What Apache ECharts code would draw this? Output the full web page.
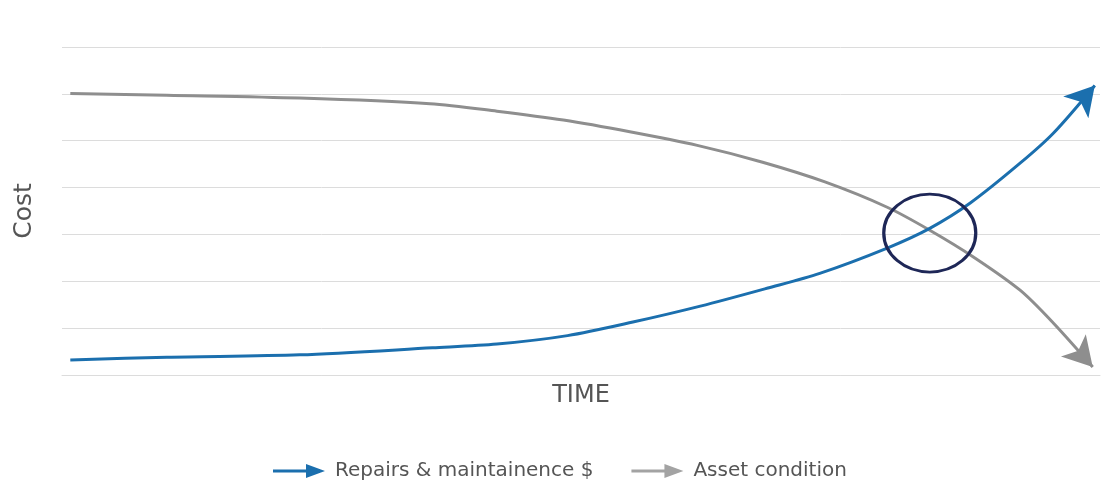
<!DOCTYPE html>
<html>
<head>
<meta charset="utf-8">
<script src="https://cdn.jsdelivr.net/npm/echarts@6/dist/echarts.min.js"></script>
<style>
  html, body { margin: 0; padding: 0; background: #ffffff; }
  #chart { width: 1115px; height: 481px; }
</style>
</head>
<body>
<div id="chart"></div>
<script>
// Time runs 0..100, cost on a 0..7 scale (no tick labels shown)
const repairsTime = [0.8, 10.1, 22.9, 35.7, 41.9, 48.7, 55.0, 61.5, 67.9, 73.0, 79.5, 83.6, 87.5, 92.3, 95.5, 99.5];
const repairsCost = [0.32, 0.38, 0.43, 0.58, 0.66, 0.84, 1.13, 1.47, 1.85, 2.17, 2.71, 3.13, 3.67, 4.52, 5.16, 6.18];

const conditionTime = [0.8, 10.1, 22.9, 35.45, 41.9, 48.3, 54.7, 61.2, 67.5, 73.5, 79.5, 83.6, 87.8, 92.3, 95.5, 99.3];
const conditionCost = [6.01, 5.97, 5.91, 5.79, 5.63, 5.44, 5.19, 4.90, 4.54, 4.12, 3.58, 3.09, 2.52, 1.81, 1.11, 0.17];

// Where the two curves cross
const crossingPoint = [83.6, 3.03];

const seriesNames = ['Repairs & maintainence $', 'Asset condition'];
const axisNames = { x: 'TIME', y: 'Cost' };

const BLUE = '#1b6fae';
const GREY = '#8e8e8e';
const TEXT = '#555555';
const GRID_LINE = '#dcdcdc';

const arrowIcon = 'path://M0,6.5L33,6.5L33,1L52,8L33,15L33,9.5L0,9.5Z';

function pairs(xs, ys, rot) {
  return xs.map((x, i) => {
    const item = { value: [x, ys[i]] };
    if (i === xs.length - 1) {
      item.symbol = 'arrow';
      item.symbolSize = [25, 29];
      item.symbolRotate = rot || 0;
    }
    return item;
  });
}

const chart = echarts.init(document.getElementById('chart'), null, { renderer: 'canvas' });

function buildOption(rotA, rotB) {
  return {
    animation: false,
    backgroundColor: '#ffffff',
    textStyle: { fontFamily: 'DejaVu Sans' },
    grid: { left: 62, right: 15, top: 47, bottom: 106 },
    legend: {
      left: 268,
      top: 456,
      itemWidth: 52,
      itemHeight: 16,
      itemGap: 38,
      textStyle: { color: TEXT, fontSize: 20, fontFamily: 'DejaVu Sans', padding: [0, 0, 0, 5] },
      data: [
        { name: seriesNames[0], icon: arrowIcon, itemStyle: { color: BLUE } },
        { name: seriesNames[1], icon: arrowIcon, itemStyle: { color: '#a3a3a3' } }
      ]
    },
    xAxis: {
      type: 'value',
      min: 0,
      max: 100,
      name: axisNames.x,
      nameLocation: 'middle',
      nameGap: 9,
      nameTextStyle: { color: TEXT, fontSize: 24, fontFamily: 'DejaVu Sans', verticalAlign: 'top' },
      axisLine: { show: true, lineStyle: { color: GRID_LINE, width: 1 } },
      axisTick: { show: false },
      axisLabel: { show: false },
      splitLine: { show: false }
    },
    yAxis: {
      type: 'value',
      min: 0,
      max: 7,
      interval: 1,
      name: axisNames.y,
      nameLocation: 'middle',
      nameRotate: 90,
      nameGap: 25,
      nameTextStyle: { color: TEXT, fontSize: 25, fontFamily: 'DejaVu Sans' },
      axisLine: { show: false },
      axisTick: { show: false },
      axisLabel: { show: false },
      splitLine: { show: true, lineStyle: { color: GRID_LINE, width: 1 } }
    },
    series: [
      {
        name: seriesNames[0],
        type: 'line',
        smooth: 0.3,
        symbol: 'none',
        showSymbol: true,
        showAllSymbol: true,
        z: 3,
        itemStyle: { color: BLUE },
        lineStyle: { color: BLUE, width: 3 },
        data: pairs(repairsTime, repairsCost, rotA),
        markPoint: {
          silent: true,
          symbol: 'circle',
          symbolSize: [92, 78],
          itemStyle: { color: 'rgba(0,0,0,0)', borderColor: '#1e2757', borderWidth: 3 },
          label: { show: false },
          data: [{ coord: crossingPoint }]
        }
      },
      {
        name: seriesNames[1],
        type: 'line',
        smooth: 0.3,
        symbol: 'none',
        showSymbol: true,
        showAllSymbol: true,
        z: 2,
        itemStyle: { color: GREY },
        lineStyle: { color: GREY, width: 3 },
        data: pairs(conditionTime, conditionCost, rotB)
      }
    ]
  };
}

chart.setOption(buildOption(0, 0));

// Point each arrowhead along the final segment of its curve (screen space)
function endRotation(xs, ys) {
  const n = xs.length;
  const a = chart.convertToPixel({ gridIndex: 0 }, [xs[n - 2], ys[n - 2]]);
  const b = chart.convertToPixel({ gridIndex: 0 }, [xs[n - 1], ys[n - 1]]);
  const dx = b[0] - a[0];
  const dyUp = a[1] - b[1];
  // 'arrow' points up by default; rotation is counter-clockwise in degrees
  return Math.atan2(dyUp, dx) * 180 / Math.PI - 90;
}

chart.setOption(buildOption(
  endRotation(repairsTime, repairsCost),
  endRotation(conditionTime, conditionCost)
));
</script>
</body>
</html>
